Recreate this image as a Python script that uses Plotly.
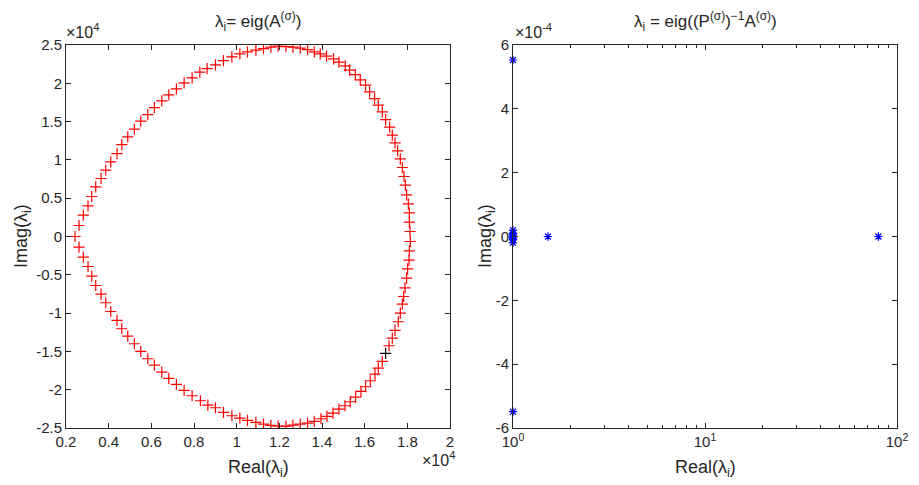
import plotly.graph_objects as go

# ---- Left panel: eigenvalues of A (real, imag) ----
upper_real = [2422, 2610, 2812, 3032, 3206, 3394, 3642, 3863, 4097, 4393, 4613, 4895, 5205, 5505,
              5833, 6143, 6490, 6819, 7175, 7537, 7912, 8273, 8616, 9005, 9381, 9775, 10150, 10507,
              10901, 11257, 11605, 11947, 12308, 12637, 12979, 13322, 13636, 13918, 14213, 14542,
              14795, 15091, 15293, 15560, 15794, 16043, 16231, 16465, 16639, 16827, 16982, 17169,
              17296, 17423, 17545, 17671, 17765, 17845, 17906, 17967, 18047, 18094, 18094, 18126]
upper_imag = [0, 1436, 2793, 4006, 5220, 6486, 7569, 8665, 9748, 10832, 12006, 13011, 14016, 15060,
              15921, 16835, 17709, 18492, 19275, 20058, 20710, 21454, 21924, 22407, 22968, 23451, 23842,
              24103, 24325, 24534, 24717, 24847, 24795, 24717, 24586, 24404, 24103, 23842, 23542, 23190,
              22759, 22276, 21715, 21141, 20449, 19758, 18883, 18009, 17148, 16273, 15269, 14277,
              13233, 12228, 11184, 10140, 9005, 7830, 6708, 5442, 4267, 3093, 1879, 653]
lower_real = [2610, 2812, 3032, 3206, 3394, 3642, 3863, 4097, 4393, 4613, 4895, 5205, 5505, 5833,
              6143, 6490, 6819, 7175, 7537, 7912, 8301, 8649, 9005, 9381, 9775, 10150, 10507, 10901,
              11257, 11605, 11947, 12308, 12637, 12979, 13322, 13636, 13951, 14232, 14514, 14795,
              15077, 15325, 15574, 15827, 16043, 16264, 16484, 16639, 16827, 17141, 17296,
              17423, 17577, 17671, 17765, 17826, 17892, 17967, 18014, 18080, 18094, 18140]
lower_imag = [-1383, -2688, -3915, -5168, -6395, -7517, -8652, -9788, -10962, -12045, -12998, -14003,
              -15008, -15960, -16782, -17696, -18531, -19314, -20097, -20789, -21441, -22002, -22355,
              -22968, -23399, -23699, -24012, -24273, -24482, -24665, -24743, -24743, -24612, -24482,
              -24351, -24143, -23790, -23490, -23046, -22524, -22094, -21572, -20958, -20228, -19614,
              -18831, -17957, -17174, -16313, -14264, -13259, -12267, -11132, -9996, -8822,
              -7830, -6695, -5429, -4215, -3080, -1866, -653]
# one eigenvalue drawn in black in the reference
dark_real = [16982]
dark_imag = [-15269]

# ---- Right panel: eigenvalues of P^-1 A ----
pre_real = [1.0, 1.0, 1.0, 1.0, 1.0, 1.0, 1.0, 1.0, 1.0, 1.52, 80.0]
pre_imag = [5.53e-4, -5.49e-4, 0.0, 1.0e-5, -1.0e-5, 2.0e-5, -2.0e-5, 0.5e-5, -0.5e-5, 0.0, 0.0]

left_xticks = [2000, 4000, 6000, 8000, 10000, 12000, 14000, 16000, 18000, 20000]
left_xlabels = ["0.2", "0.4", "0.6", "0.8", "1", "1.2", "1.4", "1.6", "1.8", "2"]
left_yticks = [-25000, -20000, -15000, -10000, -5000, 0, 5000, 10000, 15000, 20000, 25000]
left_ylabels = ["-2.5", "-2", "-1.5", "-1", "-0.5", "0", "0.5", "1", "1.5", "2", "2.5"]
right_xticks = [1, 10, 100]
right_xlabels = ["10<sup>0</sup>", "10<sup>1</sup>", "10<sup>2</sup>"]
right_xminor = [2, 3, 4, 5, 6, 7, 8, 9, 20, 30, 40, 50, 60, 70, 80, 90]
right_yticks = [-6e-4, -4e-4, -2e-4, 0, 2e-4, 4e-4, 6e-4]
right_ylabels = ["-6", "-4", "-2", "0", "2", "4", "6"]

W, H = 919, 485
OFF = 8  # page body margin in the browser
FONT = "Liberation Sans, Arial, Helvetica, sans-serif"
AX = "#262626"


def px(x):
    return (x - OFF) / W


def py(y):
    return 1 - (y - OFF) / H


fig = go.Figure()
fig.add_trace(go.Scatter(x=upper_real + lower_real, y=upper_imag + lower_imag, mode="markers",
                         marker=dict(symbol="cross-thin-open", size=8, color="#FF0000",
                                     line=dict(color="#FF0000", width=1.2)),
                         xaxis="x", yaxis="y", showlegend=False))
fig.add_trace(go.Scatter(x=dark_real, y=dark_imag, mode="markers",
                         marker=dict(symbol="cross-thin-open", size=8, color="#000000",
                                     line=dict(color="#000000", width=1.2)),
                         xaxis="x", yaxis="y", showlegend=False))
fig.add_trace(go.Scatter(x=pre_real, y=pre_imag, mode="markers", cliponaxis=False,
                         marker=dict(symbol="asterisk-open", size=7, color="#0000FF",
                                     line=dict(color="#0000FF", width=1.2)),
                         xaxis="x2", yaxis="y2", showlegend=False))

ydom = [py(428), py(45)]
common = dict(showline=True, linecolor=AX, linewidth=1, mirror="ticks", ticks="inside",
              ticklen=5, tickcolor=AX, tickwidth=1, showgrid=False, zeroline=False,
              automargin=False, tickfont=dict(family=FONT, size=15, color="#262626"))

fig.update_layout(
    template="none",
    width=W, height=H, paper_bgcolor="white", plot_bgcolor="white",
    margin=dict(l=0, r=0, t=0, b=0, pad=0),
    font=dict(family=FONT, color="#262626"),
    xaxis=dict(domain=[px(66), px(450)], range=[2000, 20000], tickvals=left_xticks,
               ticktext=left_xlabels, anchor="y", **common),
    yaxis=dict(domain=ydom, range=[-25000, 25000], tickvals=left_yticks,
               ticktext=left_ylabels, anchor="x", **common),
    xaxis2=dict(domain=[px(513), px(897)], type="log", range=[0, 2], tickvals=right_xticks,
                ticktext=right_xlabels, anchor="y2",
                minor=dict(tickvals=right_xminor, ticks="inside", ticklen=3, tickcolor=AX),
                **common),
    yaxis2=dict(domain=ydom, range=[-6e-4, 6e-4], tickvals=right_yticks,
                ticktext=right_ylabels, anchor="x2", **common),
)

ann = [
    dict(x=px(258), y=py(21), text="λ<sub>i</sub>= eig(A<sup>(σ)</sup>)", font=dict(size=17)),
    dict(x=px(705), y=py(21), text="λ<sub>i</sub> = eig((P<sup>(σ)</sup>)<sup>−1</sup>A<sup>(σ)</sup>)",
         font=dict(size=17)),
    dict(x=px(258), y=py(468), text="Real(λ<sub>i</sub>)", font=dict(size=18)),
    dict(x=px(705), y=py(468), text="Real(λ<sub>i</sub>)", font=dict(size=18)),
    dict(x=px(22), y=py(236), text="Imag(λ<sub>i</sub>)", textangle=-90, font=dict(size=18)),
    dict(x=px(486), y=py(236), text="Imag(λ<sub>i</sub>)", textangle=-90, font=dict(size=18)),
    dict(x=px(64), y=py(31), text="×10<sup>4</sup>", xanchor="left", font=dict(size=16)),
    dict(x=px(513), y=py(31), text="×10<sup>-4</sup>", xanchor="left", font=dict(size=16)),
    dict(x=px(457), y=py(459), text="×10<sup>4</sup>", xanchor="right", font=dict(size=16)),
]
for a in ann:
    a.update(xref="paper", yref="paper", showarrow=False, yanchor="middle")
    a.setdefault("xanchor", "center")
    a["font"].update(family=FONT, color="#262626")
fig.update_layout(annotations=ann)

fig.write_html("out.html")
